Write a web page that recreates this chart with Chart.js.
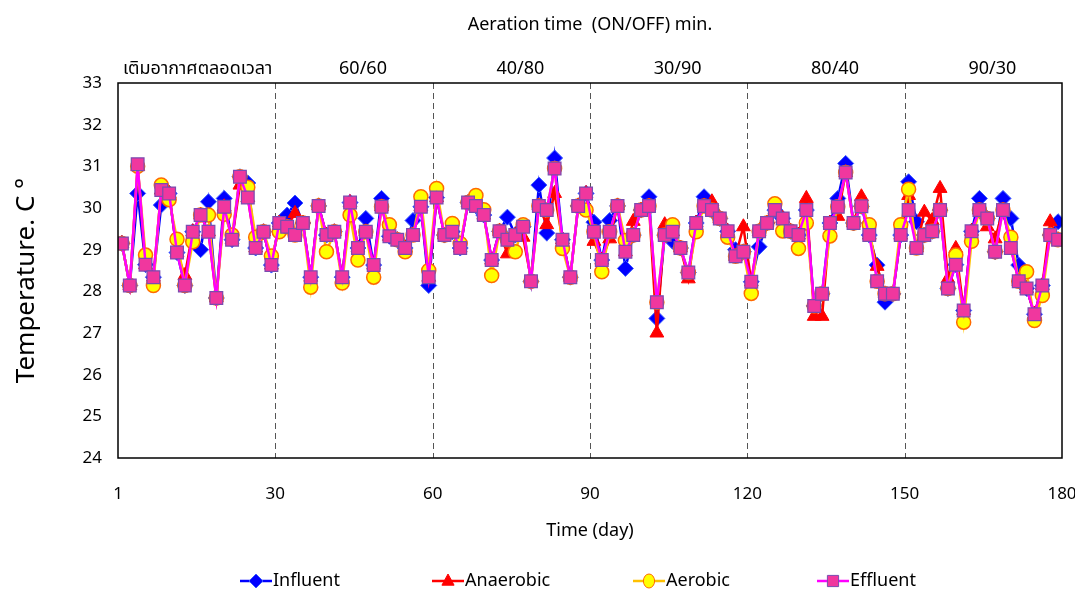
<!DOCTYPE html>
<html>
<head>
<meta charset="utf-8">
<script src="https://cdn.jsdelivr.net/npm/chart.js@4/dist/chart.umd.min.js"></script>
<style>
  html, body { margin: 0; padding: 0; background: #fff; }
</style>
</head>
<body>
<canvas id="tempChart" width="1075" height="592"></canvas>
<script>
const effluent = [
  29.15,28.14,31.05,28.64,28.34,30.43,30.35,28.93,28.14,29.43,
  29.83,29.43,27.84,30.03,29.24,30.75,30.25,29.04,29.43,28.63,
  29.64,29.55,29.35,29.64,28.34,30.05,29.35,29.43,28.34,30.13,
  29.04,29.43,28.63,30.03,29.32,29.24,29.04,29.35,30.03,28.34,
  30.25,29.35,29.43,29.04,30.13,30.05,29.83,28.75,29.44,29.24,
  29.35,29.55,28.24,30.05,29.95,30.95,29.24,28.34,30.05,30.35,
  29.43,28.75,29.43,30.05,28.95,29.35,29.95,30.05,27.74,29.35,
  29.43,29.04,28.45,29.64,30.05,29.95,29.75,29.44,28.84,28.95,
  28.23,29.44,29.64,29.95,29.75,29.44,29.35,29.95,27.65,27.94,
  29.64,30.03,30.85,29.64,30.04,29.35,28.24,27.94,27.94,29.35,
  29.95,29.04,29.35,29.44,29.95,28.07,28.64,27.54,29.44,29.95,
  29.75,28.95,29.95,29.04,28.24,28.07,27.45,28.14,29.35,29.24
];
const influent = [
  29.15,28.14,30.35,28.64,28.34,30.07,30.35,28.93,28.14,29.43,
  29.0,30.15,27.84,30.23,29.24,30.75,30.6,29.04,29.43,28.63,
  29.64,29.83,30.12,29.64,28.34,30.05,29.35,29.43,28.34,30.13,
  29.04,29.75,28.63,30.23,29.32,29.24,29.04,29.7,30.03,28.14,
  30.25,29.35,29.43,29.04,30.13,30.05,29.83,28.75,29.44,29.78,
  29.35,29.55,28.24,30.55,29.4,31.2,29.24,28.34,30.05,30.35,
  29.66,28.75,29.7,30.05,28.55,29.35,29.95,30.27,27.35,29.35,
  29.2,29.04,28.45,29.64,30.27,29.95,29.75,29.44,29.0,28.95,
  28.23,29.07,29.64,29.95,29.75,29.44,29.35,29.95,27.65,27.94,
  29.64,30.23,31.07,29.64,30.04,29.35,28.63,27.74,27.94,29.35,
  30.63,29.67,29.35,29.44,29.95,28.07,28.64,27.54,29.44,30.23,
  29.75,28.95,30.23,29.75,28.63,28.07,27.45,28.14,29.35,29.67
];
const anaerobic = [
  29.15,28.14,31.0,28.64,28.34,30.43,30.35,28.93,28.38,29.43,
  29.83,29.43,27.84,30.03,29.24,30.55,30.25,29.04,29.43,28.63,
  29.64,29.55,29.87,29.64,28.34,30.05,29.35,29.43,28.34,30.13,
  29.04,29.43,28.63,30.03,29.32,29.24,29.04,29.35,30.03,28.34,
  30.25,29.35,29.43,29.04,30.13,30.05,29.83,28.75,29.44,28.9,
  29.35,29.3,28.3,30.05,29.6,30.35,29.24,28.34,30.05,30.35,
  29.2,28.75,29.26,30.05,28.95,29.68,29.95,30.05,27.0,29.6,
  29.43,29.04,28.3,29.64,30.05,30.15,29.75,29.44,28.84,29.55,
  28.23,29.44,29.64,29.95,29.75,29.44,29.35,30.23,27.4,27.4,
  29.64,29.8,30.85,29.64,30.27,29.35,28.6,27.94,27.94,29.35,
  30.3,29.04,29.9,29.7,30.47,28.3,29.03,27.54,29.44,29.95,
  29.55,29.26,29.95,29.04,28.24,28.07,27.45,28.14,29.67,29.24
];
const aerobic = [
  29.15,28.14,31.0,28.87,28.14,30.55,30.2,29.25,28.14,29.19,
  29.83,29.83,27.84,29.85,29.35,30.75,30.5,29.3,29.43,28.85,
  29.43,29.55,29.35,29.64,28.1,30.05,28.95,29.43,28.2,29.83,
  28.75,29.43,28.34,30.03,29.6,29.24,28.95,29.35,30.27,28.5,
  30.47,29.35,29.63,29.15,30.13,30.3,29.96,28.38,29.44,29.24,
  28.95,29.6,28.24,30.05,29.95,30.95,29.03,28.34,30.05,29.95,
  29.43,28.47,29.43,30.05,29.22,29.35,29.95,30.05,27.74,29.35,
  29.6,29.04,28.45,29.43,30.05,29.95,29.75,29.3,28.84,28.95,
  27.95,29.44,29.64,30.1,29.45,29.44,29.03,29.64,27.65,27.94,
  29.33,30.03,30.85,29.64,30.04,29.6,28.24,27.94,27.94,29.6,
  30.45,29.04,29.35,29.44,29.95,28.07,28.87,27.26,29.2,29.95,
  29.75,28.95,29.95,29.3,28.24,28.47,27.3,27.9,29.35,29.24
];

// Messzeitpunkte (Tag) – Raster von 1,5 Tagen
const days = effluent.map((_, i) => 0.75 + i * 1.5);

// Belüftungsphasen
const phaseEdges = [0, 30, 60, 90, 120, 150, 180];
const phaseLabels = ['เติมอากาศตลอดเวลา', '60/60', '40/80', '30/90', '80/40', '90/30'];
const topTitle = 'Aeration time  (ON/OFF) min.';
const yTitle = 'Temperature. C °';

const FONT = '"Noto Sans", "Noto Sans Thai", "DejaVu Sans", sans-serif';

function toPoints(values) {
  return values.map((v, i) => ({ x: days[i], y: v }));
}

// Marker fürs Legenden-Zeichnen
function drawMarker(ctx, style, x, y, r, fill, stroke) {
  ctx.save();
  ctx.fillStyle = fill;
  ctx.strokeStyle = stroke;
  ctx.lineWidth = 1;
  ctx.beginPath();
  if (style === 'rectRot') {
    ctx.moveTo(x, y - r); ctx.lineTo(x + r, y); ctx.lineTo(x, y + r); ctx.lineTo(x - r, y);
    ctx.closePath();
  } else if (style === 'triangle') {
    ctx.moveTo(x, y - r); ctx.lineTo(x + r * 0.87, y + r * 0.6); ctx.lineTo(x - r * 0.87, y + r * 0.6);
    ctx.closePath();
  } else if (style === 'circle') {
    ctx.ellipse(x, y, r * 0.8, r, 0, 0, Math.PI * 2);
  } else {
    ctx.rect(x - r * 0.8, y - r * 0.8, r * 1.6, r * 1.6);
  }
  ctx.fill();
  ctx.stroke();
  ctx.restore();
}

const decorations = {
  id: 'decorations',
  beforeDatasetsDraw(chart) {
    const { ctx, chartArea: a, scales: { x } } = chart;
    ctx.save();
    ctx.strokeStyle = '#555';
    ctx.lineWidth = 1;
    ctx.setLineDash([6, 4]);
    phaseEdges.slice(1, -1).forEach(d => {
      const px = Math.round(x.getPixelForValue(d)) + 0.5;
      ctx.beginPath();
      ctx.moveTo(px, a.top);
      ctx.lineTo(px, a.bottom);
      ctx.stroke();
    });
    ctx.restore();
  },
  afterDraw(chart) {
    const { ctx, chartArea: a, scales: { x } } = chart;
    ctx.save();
    // Rahmen
    ctx.strokeStyle = '#000';
    ctx.lineWidth = 1.5;
    ctx.strokeRect(a.left, a.top, a.right - a.left, a.bottom - a.top);

    // Überschriften
    ctx.fillStyle = '#000';
    ctx.textAlign = 'center';
    ctx.textBaseline = 'middle';
    ctx.font = '18px ' + FONT;
    ctx.fillText(topTitle, (a.left + a.right) / 2, 25);
    phaseLabels.forEach((lbl, i) => {
      const mid = (phaseEdges[i] + phaseEdges[i + 1]) / 2;
      const shift = i === 0 ? 1 : 9;
      ctx.fillText(lbl, x.getPixelForValue(mid) + shift, 69);
    });

    // y-Achsentitel
    ctx.save();
    ctx.translate(27, (a.top + a.bottom) / 2 + 10);
    ctx.rotate(-Math.PI / 2);
    ctx.font = '26px ' + FONT;
    ctx.fillText(yTitle, 0, 0);
    ctx.restore();

    // Legende
    const legendX = [240, 432, 633, 817];
    const y = 581;
    chart.data.datasets.forEach((ds, i) => {
      const lx = legendX[i];
      ctx.strokeStyle = ds.borderColor;
      ctx.lineWidth = 2.5;
      ctx.beginPath();
      ctx.moveTo(lx, y);
      ctx.lineTo(lx + 32, y);
      ctx.stroke();
      drawMarker(ctx, ds.pointStyle, lx + 16, y, 7, ds.pointBackgroundColor, ds.pointBorderColor);
      ctx.fillStyle = '#000';
      ctx.textAlign = 'left';
      ctx.font = '18px ' + FONT;
      ctx.fillText(ds.label, lx + 33, y);
    });
    ctx.restore();
  }
};

const ctx = document.getElementById('tempChart').getContext('2d');
new Chart(ctx, {
  type: 'line',
  data: {
    datasets: [
      {
        label: 'Influent', data: toPoints(influent), order: 3,
        borderColor: '#0000FF', borderWidth: 2.5,
        pointStyle: 'rectRot', pointRadius: 8,
        pointBackgroundColor: '#0000FF', pointBorderColor: '#3A5BFF', pointBorderWidth: 1
      },
      {
        label: 'Anaerobic', data: toPoints(anaerobic), order: 2,
        borderColor: '#FF0000', borderWidth: 2.5,
        pointStyle: 'triangle', pointRadius: 8,
        pointBackgroundColor: '#FF0000', pointBorderColor: '#FF0000', pointBorderWidth: 1
      },
      {
        label: 'Aerobic', data: toPoints(aerobic), order: 1,
        borderColor: '#FFC000', borderWidth: 2.5,
        pointStyle: 'circle', pointRadius: 7,
        pointBackgroundColor: '#FFFF00', pointBorderColor: '#FF6A00', pointBorderWidth: 1.5
      },
      {
        label: 'Effluent', data: toPoints(effluent), order: 0,
        borderColor: '#FF00FF', borderWidth: 2.5,
        pointStyle: 'rect', pointRadius: 9,
        pointBackgroundColor: '#F0379E', pointBorderColor: '#7A4BB0', pointBorderWidth: 1.2
      }
    ]
  },
  options: {
    responsive: false,
    animation: false,
    layout: { padding: { top: 83, right: 13, bottom: 46, left: 0 } },
    plugins: {
      legend: { display: false },
      tooltip: { enabled: false }
    },
    scales: {
      x: {
        type: 'linear', min: 0, max: 180,
        grid: { display: false, drawTicks: false },
        border: { display: false },
        ticks: {
          stepSize: 30, padding: 26, color: '#000',
          font: { family: FONT, size: 17 },
          callback: v => (v === 0 ? '1' : v)
        },
        title: {
          display: true, text: 'Time (day)', color: '#000',
          font: { family: FONT, size: 18 }, padding: { top: 18, bottom: 4 }
        },
        afterFit: scale => {
          scale.height = 88;
          scale.paddingLeft = 0;
          scale.paddingRight = 0;
        }
      },
      y: {
        min: 24, max: 33,
        grid: { display: false, drawTicks: false },
        border: { display: false },
        ticks: { stepSize: 1, padding: 16, color: '#000', font: { family: FONT, size: 17 } },
        afterFit: scale => { scale.width = 118; }
      }
    }
  },
  plugins: [decorations]
});
</script>
</body>
</html>
